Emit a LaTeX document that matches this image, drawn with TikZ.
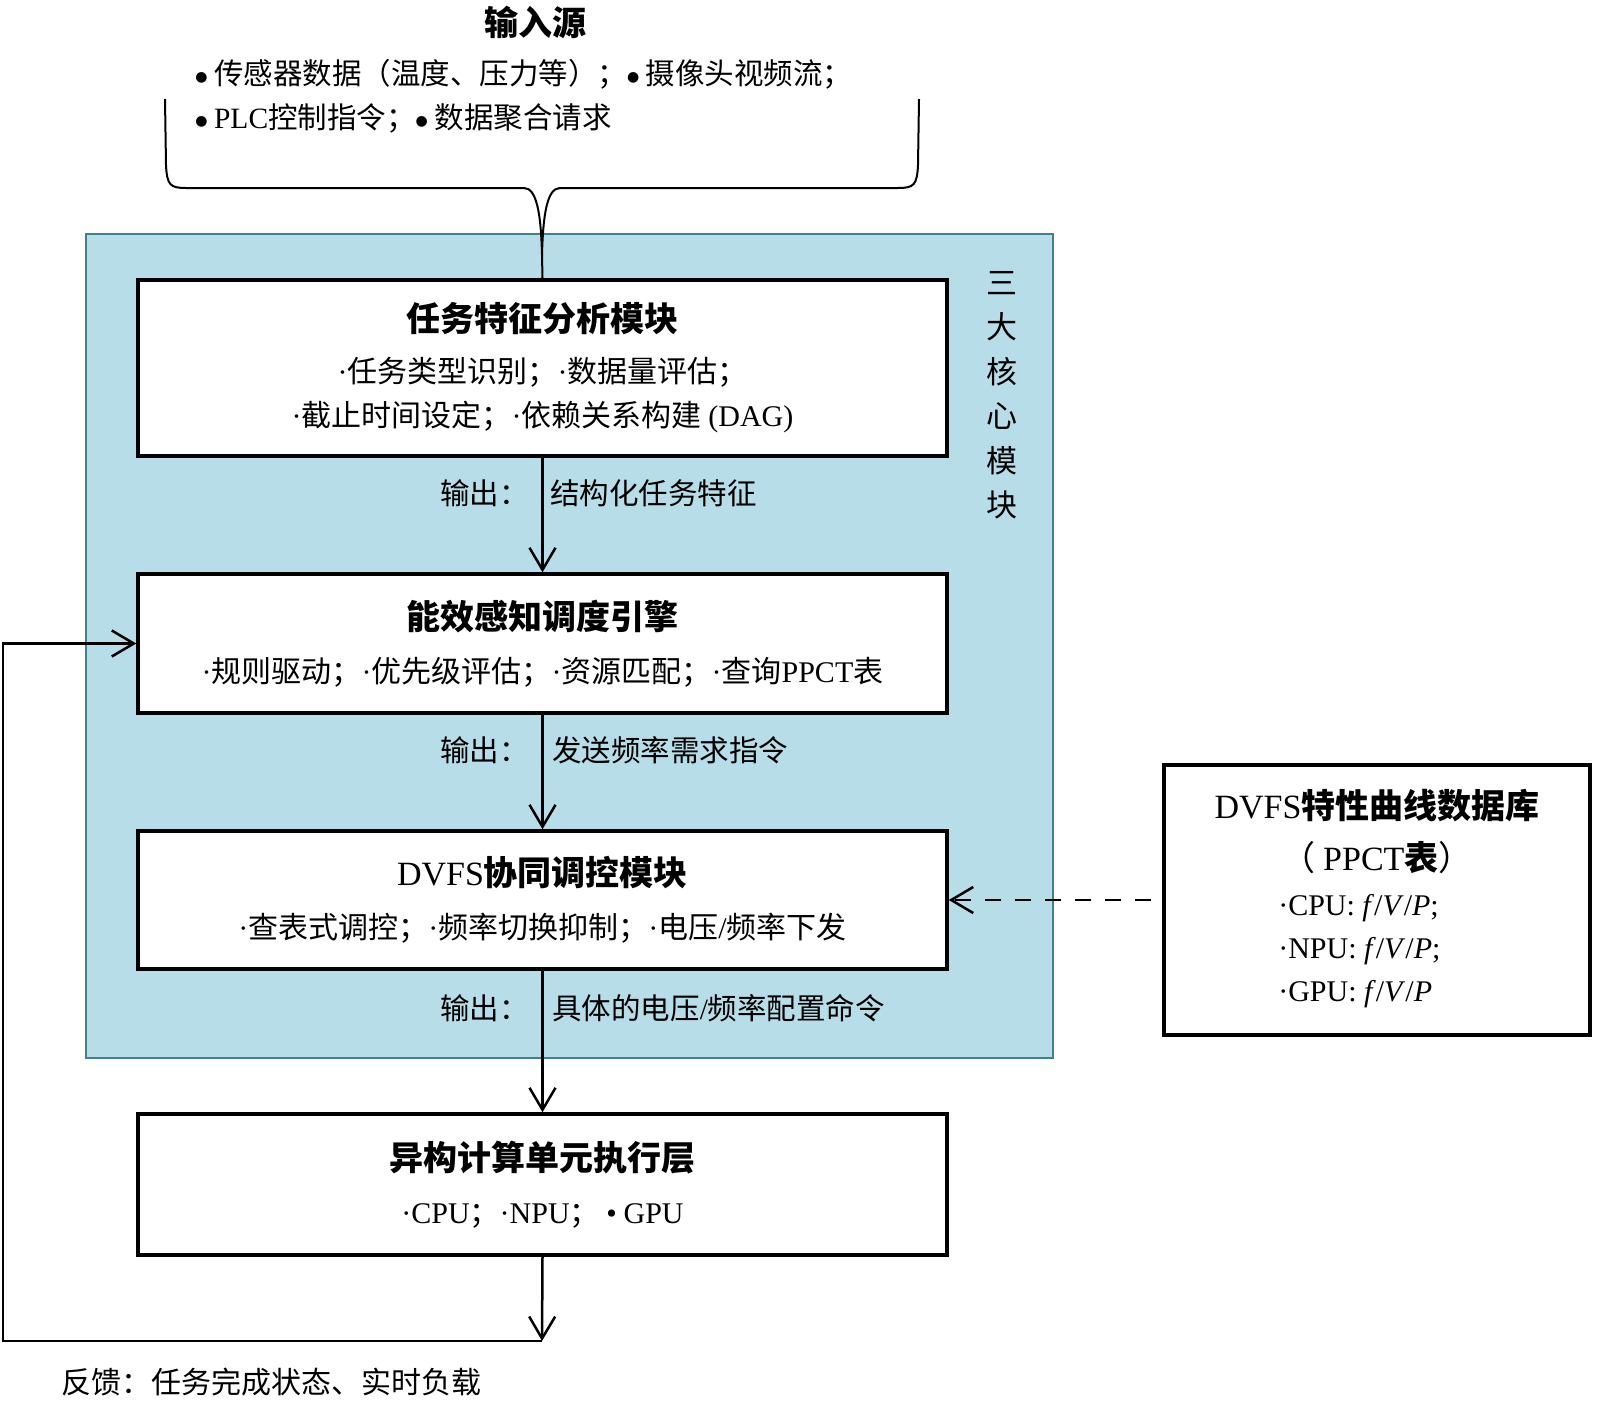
\documentclass[tikz,border=0pt]{standalone}
\usepackage{fontspec}
\setmainfont{Noto Sans CJK SC}
\newfontfamily\lat{Liberation Serif}
\newfontfamily\sym{DejaVu Sans}
\usetikzlibrary{arrows.meta}
\definecolor{panelblue}{HTML}{B7DDE8}
\definecolor{panelline}{HTML}{41818F}
\tikzset{
    >={Straight Barb[length=22pt,width=26pt]} % open V tip
}
\newcommand{\tnr}[1]{{\lat #1}}
\newcommand{\pdot}{{\lat ·}}
\newcommand{\bul}{\raisebox{3pt}{\sym\fontsize{14}{14}\selectfont ●}}

\begin{document}
\begin{tikzpicture}[x=1pt,y=-1pt,line width=2.5pt]
    \tikzstyle{panel}=[draw=panelline, fill=panelblue, line width=2pt,
        minimum width=967pt, minimum height=824pt]
    \tikzstyle{modbox}=[draw, line width=3.5pt, fill=white, align=center,
        minimum width=809pt, inner sep=0pt, font=\fontsize{30}{44}\selectfont]
    \tikzstyle{outlabel}=[inner sep=0pt, font=\fontsize{29.5}{36}\selectfont]
    \useasboundingbox (0,0) rectangle (1600,1400);

    % core modules panel
    \node[panel] (core) at (569.5,646) {};
    \node[align=center, font=\fontsize{31}{44.5}\selectfont] (side) at (1002,395)
        {三\\大\\核\\心\\模\\块};

    \node[modbox, minimum height=176pt] (analysis) at (542.5,368)
        {{\bfseries\fontsize{34}{40}\selectfont 任务特征分析模块}\\[7pt]
         \pdot 任务类型识别；\pdot 数据量评估；\\
         \pdot 截止时间设定；\pdot 依赖关系构建 \tnr{(DAG)}};
    \node[modbox, minimum height=139pt] (sched) at (542.5,643.5)
        {{\bfseries\fontsize{34}{40}\selectfont 能效感知调度引擎}\\[9pt]
         \pdot 规则驱动；\pdot 优先级评估；\pdot 资源匹配；\pdot 查询\tnr{PPCT}表};
    \node[modbox, minimum height=138pt] (dvfs) at (542.5,900)
        {{\fontsize{34}{40}\selectfont \tnr{DVFS}\bfseries 协同调控模块}\\[9pt]
         \pdot 查表式调控；\pdot 频率切换抑制；\pdot 电压\tnr{/}频率下发};
    \node[modbox, minimum height=141pt] (exec) at (542.5,1184.5)
        {{\bfseries\fontsize{34}{40}\selectfont 异构计算单元执行层}\\[9pt]
         \pdot\tnr{CPU}；\pdot\tnr{NPU}；\ \tnr{•} \tnr{GPU}};

    % input source
    \node[font=\bfseries\fontsize{34}{40}\selectfont] (srctitle) at (535,22) {输入源};
    \node[anchor=west, align=left, inner sep=0pt, font=\fontsize{29.5}{44}\selectfont] (srcitems) at (194,96)
        {\bul\ 传感器数据（温度、压力等）；\bul\ 摄像头视频流；\\
         \bul\ \tnr{PLC}控制指令；\bul\ 数据聚合请求};
    \coordinate (braceL) at (165,99);
    \coordinate (braceR) at (919,99);
    \coordinate (braceTip) at (542,255);
    \draw[line width=2pt] (braceL) -- (166,165) .. controls (167,185) and (170,188) .. (186,188)
        -- (524,188) .. controls (537,188) and (541,215) .. (braceTip)
        -- (analysis.north);
    \draw[line width=2pt] (braceR) -- (918,165) .. controls (917,185) and (914,188) .. (898,188)
        -- (560,188) .. controls (547,188) and (543,215) .. (braceTip);

    % flow
    \draw[->] (analysis.south) -- (sched.north);
    \node[outlabel, anchor=east] (out1a) at (530,493) {输出：};
    \node[outlabel, anchor=west] (out1b) at (549,493) {结构化任务特征};
    \draw[->] (sched.south) -- (dvfs.north);
    \node[outlabel, anchor=east] (out2a) at (530,750) {输出：};
    \node[outlabel, anchor=west] (out2b) at (551,750) {发送频率需求指令};
    \draw[->] (dvfs.south) -- (exec.north);
    \node[outlabel, anchor=east] (out3a) at (530,1008) {输出：};
    \node[outlabel, anchor=west] (out3b) at (551,1008) {具体的电压\tnr{/}频率配置命令};

    % feedback loop
    \coordinate (fb) at (542,1341);
    \coordinate (fbcorner) at (3,1341);
    \draw[->] (exec.south) -- (fb);
    \draw[->] (fb) -- (fbcorner) |- (sched.west);
    \node[anchor=west, inner sep=0pt, font=\fontsize{30}{36}\selectfont] (fbtext) at (60,1382)
        {反馈：任务完成状态、实时负载};

    % DVFS database
    \node[draw, line width=3.5pt, minimum width=426pt, minimum height=270pt] (db) at (1377,900) {};
    \node[align=center, inner sep=0pt, font=\fontsize{34}{52}\selectfont] (dbname) at (1377,831)
        {\tnr{DVFS}{\bfseries 特性曲线数据库}\\（ \tnr{PPCT}{\bfseries 表}）};
    \node[anchor=west, inner sep=0pt, font=\lat\fontsize{30}{43}\selectfont] (dbdata) at (1277,950)
        {\begin{tabular}{@{}l@{}}
         ·CPU: \textit{f}/\textit{V}/\textit{P};\\
         ·NPU: \textit{f}/\textit{V}/\textit{P};\\
         ·GPU: \textit{f}/\textit{V}/\textit{P}
         \end{tabular}};
    \draw[->, dash pattern=on 16pt off 14pt, shorten <=11pt] (db.west) -- (dvfs.east);
\end{tikzpicture}
\end{document}
